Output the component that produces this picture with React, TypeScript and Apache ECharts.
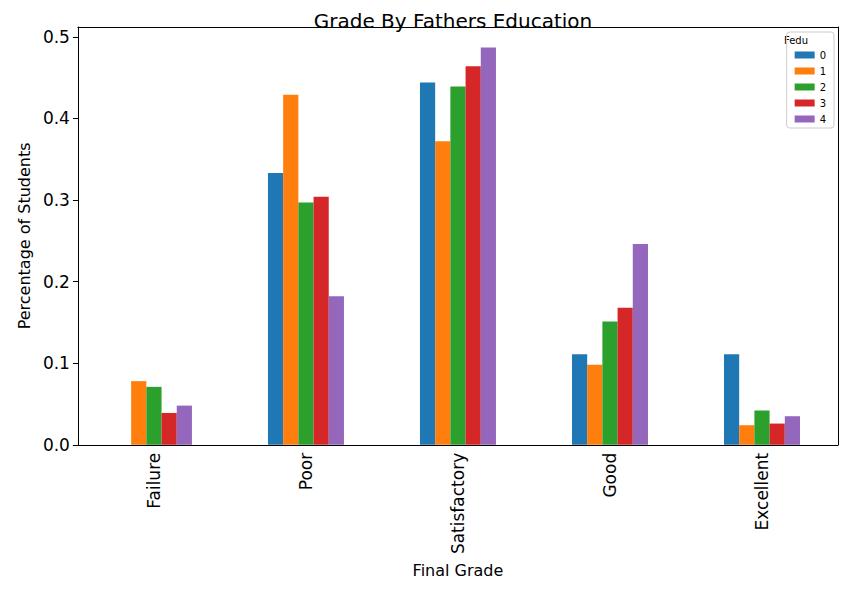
import React, { useEffect, useRef } from 'react'
import * as echarts from 'echarts'

const categories = ['Failure', 'Poor', 'Satisfactory', 'Good', 'Excellent']
const seriesNames = ['0', '1', '2', '3', '4']
const fedu0 = [0, 0.333, 0.444, 0.111, 0.111]
const fedu1 = [0.078, 0.429, 0.372, 0.098, 0.024]
const fedu2 = [0.071, 0.297, 0.439, 0.151, 0.042]
const fedu3 = [0.039, 0.304, 0.464, 0.168, 0.026]
const fedu4 = [0.048, 0.182, 0.487, 0.246, 0.035]
const values = [fedu0, fedu1, fedu2, fedu3, fedu4]
const colors = ['#1f77b4', '#ff7f0e', '#2ca02c', '#d62728', '#9467bd']

const App = () => {
  const chartRef = useRef<HTMLDivElement>(null)

  useEffect(() => {
    if (!chartRef.current) return
    const chart = echarts.init(chartRef.current, null, { renderer: 'svg' })
    const font = 'DejaVu Sans'
    chart.setOption({
      animation: false,
      textStyle: { fontFamily: font },
      title: {
        text: 'Grade By Fathers Education',
        left: 440, top: -2, textAlign: 'center',
        textStyle: { fontSize: 20, fontWeight: 'normal', color: '#000' },
      },
      legend: {
        orient: 'vertical', right: 8, top: 24,
        padding: [18, 8, 4, 8], itemWidth: 20, itemHeight: 7, itemGap: 6,
        borderColor: '#ccc', borderWidth: 1, borderRadius: 3,
        icon: 'rect', textStyle: { fontSize: 10, color: '#000' },
        data: seriesNames,
      },
      graphic: [{ type: 'text', right: 34, top: 27, style: { text: 'Fedu', fontSize: 10, fill: '#000', fontFamily: font } }],
      grid: { left: 50, right: 4, top: 19, bottom: 121 },
      xAxis: [{
        type: 'category', data: categories,
        name: 'Final Grade', nameLocation: 'middle', nameGap: 107,
        nameTextStyle: { fontSize: 16, color: '#000' },
        axisLine: { lineStyle: { color: '#000' } },
        axisTick: { alignWithLabel: true, lineStyle: { color: '#000' }, length: 5 },
        axisLabel: { rotate: 90, fontSize: 17, color: '#000', margin: 8 },
      }, {
        type: 'category', position: 'top', data: categories,
        axisLine: { show: true, onZero: false, lineStyle: { color: '#000' } },
        axisTick: { show: false }, axisLabel: { show: false },
      }],
      yAxis: [{
        type: 'value', min: 0, max: 0.512, interval: 0.1,
        name: 'Percentage of Students', nameLocation: 'middle', nameGap: 38,
        nameTextStyle: { fontSize: 16, color: '#000' },
        axisLine: { show: true, lineStyle: { color: '#000' } },
        axisTick: { show: true, length: 5, lineStyle: { color: '#000' } },
        axisLabel: { fontSize: 17, color: '#000', showMaxLabel: false, formatter: (v: number) => v.toFixed(1) },
        splitLine: { show: false },
      }, {
        type: 'value', min: 0, max: 0.512, position: 'right',
        axisLine: { show: true, onZero: false, lineStyle: { color: '#000' } },
        axisTick: { show: false }, axisLabel: { show: false }, splitLine: { show: false },
      }],
      series: seriesNames.map((n, i) => ({
        name: n, type: 'bar', data: values[i],
        itemStyle: { color: colors[i] },
        barGap: '0%', barCategoryGap: '50%',
      })),
    })
    return () => chart.dispose()
  }, [])

  return <div ref={chartRef} style={{ width: 834, height: 575 }} />
}

export default App
